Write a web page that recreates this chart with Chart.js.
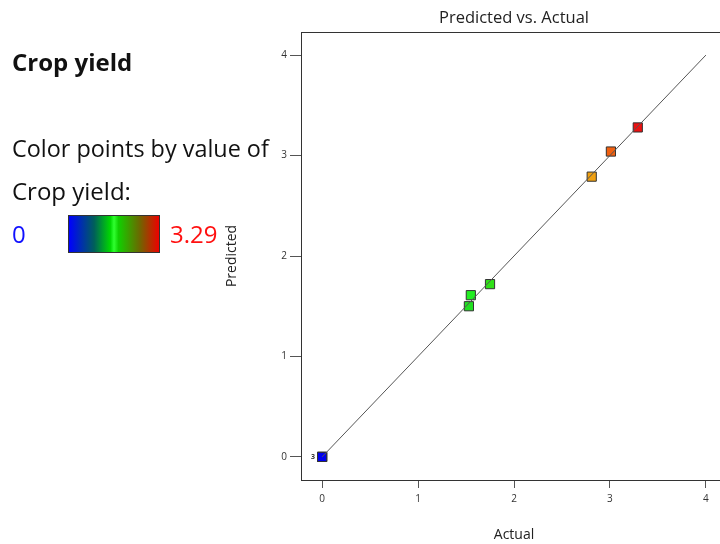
<!DOCTYPE html>
<html>
<head>
<meta charset="utf-8">
<script src="https://cdn.jsdelivr.net/npm/chart.js@4.4.0/dist/chart.umd.min.js"></script>
<style>
  html, body { margin: 0; padding: 0; width: 720px; height: 544px; overflow: hidden; background: #fff; }
  body { position: relative; font-family: "Open Sans", "Noto Sans", sans-serif; color: #111; }
  #wrap { position: absolute; left: 210px; top: 0; width: 608px; height: 544px; }
  #side { position: absolute; left: 0; top: 0; width: 300px; height: 300px; z-index: 2; pointer-events: none; }
  .head { position: absolute; left: 12px; top: 45px; font-size: 24px; font-weight: bold; }
  .line1 { position: absolute; left: 12px; top: 132px; font-size: 23.4px; white-space: nowrap; }
  .line2 { position: absolute; left: 12px; top: 174px; font-size: 24px; }
  .lo { position: absolute; left: 12px; top: 217px; font-size: 24px; color: #1010ff; }
  .hi { position: absolute; left: 170px; top: 217px; font-size: 24px; color: #ff1010; }
  .bar { position: absolute; left: 68px; top: 215px; width: 90px; height: 36px; border: 1px solid #333;
         background: linear-gradient(to right, #0000ff 0%, #005f5a 28%, #00d800 46%, #30ff30 50%, #10d000 55%, #6a6a00 78%, #ee0000 100%); }
</style>
</head>
<body>
<div id="side">
  <div class="head">Crop yield</div>
  <div class="line1">Color points by value of</div>
  <div class="line2">Crop yield:</div>
  <div class="lo">0</div>
  <div class="bar"></div>
  <div class="hi">3.29</div>
</div>
<div id="wrap"><canvas id="chart" width="608" height="544"></canvas></div>
<script>
// design points: actual vs predicted crop yield
const actual    = [0, 0, 0, 1.53, 1.55, 1.75, 2.81, 3.01, 3.29];
const predicted = [0, 0, 0, 1.50, 1.61, 1.72, 2.79, 3.04, 3.28];
const pointColors = ["#0000ee", "#0000ee", "#0000ee", "#20e020", "#22ee22", "#30e018", "#f0a010", "#f06010", "#ee1010"];
const fitLine = [0, 4];
const tickValues = [0, 1, 2, 3, 4];
const chartTitle = "Predicted vs. Actual";

const points = actual.map((a, i) => ({ x: a, y: predicted[i] }));
const diag = fitLine.map(v => ({ x: v, y: v }));

const frame = {
  id: "frame",
  afterDraw(chart) {
    const { ctx, chartArea: a } = chart;
    ctx.save();
    ctx.strokeStyle = "#333";
    ctx.lineWidth = 1;
    ctx.strokeRect(Math.round(a.left) + 0.5, Math.round(a.top) + 0.5, Math.round(a.right - a.left), Math.round(a.bottom - a.top));
    // title centred over the plot box
    ctx.fillStyle = "#222";
    ctx.font = "16.5px 'Open Sans', sans-serif";
    ctx.textAlign = "center";
    ctx.textBaseline = "middle";
    ctx.fillText(chartTitle, (a.left + a.right) / 2, 18);
    // count label for coincident points at the origin
    const px = chart.scales.x.getPixelForValue(0);
    const py = chart.scales.y.getPixelForValue(0);
    ctx.fillStyle = "#333";
    ctx.font = "bold 7px 'Open Sans', sans-serif";
    ctx.textAlign = "right";
    ctx.fillText("3", px - 7, py);
    ctx.restore();
  }
};

new Chart(document.getElementById("chart"), {
  type: "scatter",
  data: {
    datasets: [
      { type: "line", data: diag, borderColor: "#555", borderWidth: 1, pointRadius: 0, fill: false },
      { data: points, pointStyle: "rect", pointRadius: 6.5, borderWidth: 1, borderColor: "#333", backgroundColor: pointColors }
    ]
  },
  options: {
    responsive: false,
    animation: false,
    layout: { padding: { left: 0, right: 91, top: 32, bottom: 0 } },
    plugins: {
      legend: { display: false },
      tooltip: { enabled: false },
      title: { display: false }
    },
    scales: {
      x: {
        type: "linear", min: -0.22, max: 4.22,
        afterBuildTicks: s => { s.ticks = tickValues.map(v => ({ value: v })); },
        afterFit: s => { s.height = 64; },
        grid: { drawOnChartArea: false, drawTicks: true, tickLength: 8, color: "#555" },
        border: { color: "#333" },
        ticks: { color: "#333", padding: 5, font: { family: "'Open Sans', sans-serif", size: 10 }, maxRotation: 0 },
        title: { display: true, text: "Actual", color: "#222", font: { family: "'Open Sans', sans-serif", size: 14 }, padding: { top: 0, bottom: 1 } }
      },
      y: {
        type: "linear", min: -0.23, max: 4.23,
        afterBuildTicks: s => { s.ticks = tickValues.map(v => ({ value: v })); },
        afterFit: s => { s.width = 91; },
        grid: { drawOnChartArea: false, drawTicks: true, tickLength: 11, color: "#555" },
        border: { color: "#333" },
        ticks: { color: "#333", padding: 3, font: { family: "'Open Sans', sans-serif", size: 10 } },
        title: { display: true, text: "Predicted", color: "#222", font: { family: "'Open Sans', sans-serif", size: 14 }, padding: { top: 14, bottom: 0 } }
      }
    }
  },
  plugins: [frame]
});
</script>
</body>
</html>
